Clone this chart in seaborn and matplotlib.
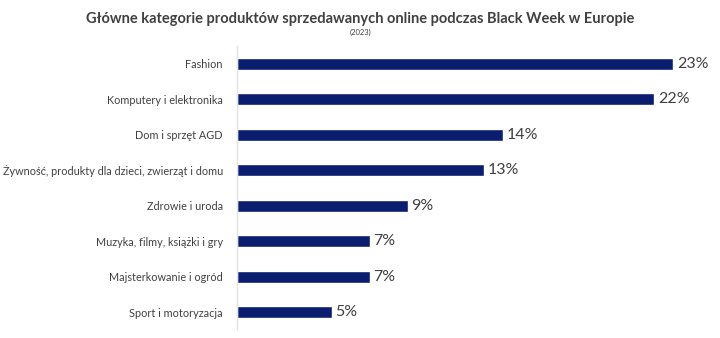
import matplotlib
matplotlib.use("Agg")
import matplotlib.pyplot as plt
import seaborn as sns
import pandas as pd

categories = [
    "Fashion",
    "Komputery i elektronika",
    "Dom i sprzęt AGD",
    "Żywność, produkty dla dzieci, zwierząt i domu",
    "Zdrowie i uroda",
    "Muzyka, filmy, książki i gry",
    "Majsterkowanie i ogród",
    "Sport i motoryzacja",
]
shares = [23, 22, 14, 13, 9, 7, 7, 5]
value_labels = ["23%", "22%", "14%", "13%", "9%", "7%", "7%", "5%"]

df = pd.DataFrame({"kategoria": categories, "udzial": shares})

sns.set_theme(style="white")
plt.rcParams["font.family"] = ["Lato", "DejaVu Sans"]

text_color = "#404040"
bar_color = "#0b1d6e"

fig = plt.figure(figsize=(7.2, 3.38), dpi=100)
ax = fig.add_axes([0.329, 0.024, 0.659, 0.840])

sns.barplot(data=df, x="udzial", y="kategoria", color=bar_color,
            width=0.34, saturation=1, ax=ax, orient="h")

ax.set_xlim(0, 25)
ax.set_ylim(7.5, -0.5)
ax.set_xlabel("")
ax.set_ylabel("")
ax.set_xticks([])
for s in ["top", "right", "bottom"]:
    ax.spines[s].set_visible(False)
ax.spines["left"].set_color("#e3e3e3")
ax.spines["left"].set_linewidth(1.0)
ax.tick_params(axis="y", length=0, pad=10, labelsize=7.8, labelcolor=text_color)

for i, (v, lab) in enumerate(zip(shares, value_labels)):
    ax.text(v + 0.2, i, lab, va="center", ha="left", fontsize=11.5, color=text_color)

fig.text(0.5, 0.945, "Główne kategorie produktów sprzedawanych online podczas Black Week w Europie",
         ha="center", va="center", fontsize=10.5, fontweight="bold", color=text_color)
fig.text(0.5, 0.905, "(2023)", ha="center", va="center", fontsize=5.5, color=text_color)

fig.savefig("out.png", dpi=100)
